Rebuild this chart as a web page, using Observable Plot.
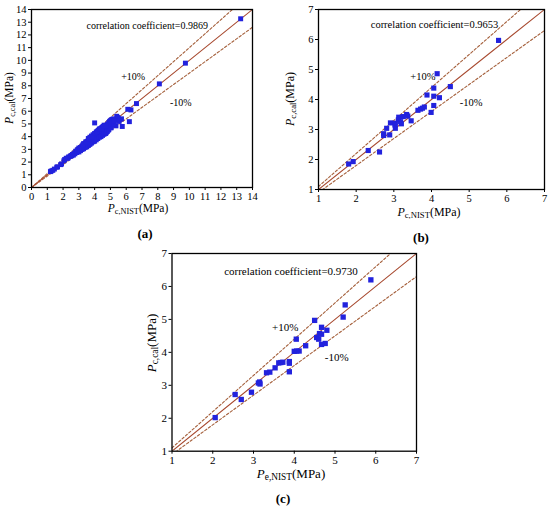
<!DOCTYPE html>
<html>
<head>
<meta charset="utf-8">
<script src="https://cdn.jsdelivr.net/npm/d3@7"></script>
<script src="https://cdn.jsdelivr.net/npm/@observablehq/plot@0.6"></script>
<style>
  body { margin: 0; background: #fff; }
  #wrap { position: relative; width: 550px; height: 509px; overflow: hidden; background: #fff; font-family: "Liberation Serif", "Times New Roman", Times, "DejaVu Serif", serif; color: #000; }
  .svgbox { position: absolute; }
  .svgbox svg { overflow: visible; }
  .svgbox svg text { font-family: "Liberation Serif", "Times New Roman", Times, "DejaVu Serif", serif; }
  .lab { position: absolute; white-space: nowrap; line-height: 1; transform: translate(-50%, -50%); }
  .lab sub { font-size: 72%; vertical-align: -0.25em; line-height: 0; }
  .rot { transform: translate(-50%, -50%) rotate(-90deg); }
  .cap { position: absolute; font-weight: bold; font-size: 13px; transform: translate(-50%, -50%); line-height: 1; }
</style>
</head>
<body>
<div id="wrap"></div>
<script>
// ---------- Panel (a) data ----------
const aX = [1.2,1.25,1.35,1.45,1.6,1.65,1.85,1.9,2.05,2.1,2.2,2.3,2.35,2.45,2.5,2.55,2.6,2.65,2.7,2.75,2.8,2.85,2.9,2.9,2.95,3.0,3.0,3.05,3.1,3.1,3.15,3.2,3.2,3.25,3.3,3.3,3.35,3.35,3.4,3.4,3.45,3.5,3.5,3.55,3.55,3.6,3.6,3.65,3.65,3.7,3.7,3.75,3.75,3.8,3.8,3.85,3.85,3.9,3.9,3.95,3.95,4.0,4.0,4.0,4.05,4.05,4.1,4.1,4.15,4.15,4.2,4.2,4.25,4.25,4.3,4.3,4.35,4.35,4.4,4.4,4.45,4.45,4.5,4.5,4.55,4.55,4.6,4.6,4.65,4.65,4.7,4.7,4.75,4.8,4.8,4.85,4.9,4.9,4.95,5.0,5.0,5.05,5.1,5.15,5.2,5.25,5.3,5.4,5.45,5.5,5.35,5.6,5.7,5.75,5.55,6.1,6.3,6.2,6.65,8.1,9.75,13.25,3.6,3.7,3.8,3.9,4.0,4.1,4.2,4.3,4.4,4.5,4.6,3.55,3.75,3.95,4.15,4.35,4.55,4.75,3.3,3.45,4.85,5.05,2.95,3.15,
  3.0,3.1,3.2,3.3,3.4,3.5,3.6,3.7,3.8,3.9,4.0,4.1,4.2,4.3,4.4,4.5,4.6,4.7,4.8,4.9,5.0,5.1,5.2,3.25,3.45,3.65,3.85,4.05,4.25,4.45,4.65,4.85,5.05,5.25,4.15,4.35,4.55,4.75];
const aY = [1.25,1.3,1.35,1.45,1.6,1.62,1.8,1.85,2.1,2.2,2.3,2.3,2.4,2.45,2.5,2.5,2.6,2.55,2.7,2.65,2.85,2.75,2.95,2.8,3.0,2.9,3.1,3.0,3.15,2.95,3.1,3.25,3.05,3.2,3.3,3.15,3.4,3.25,3.3,3.45,3.35,3.5,3.3,3.45,3.6,3.5,3.7,3.55,3.4,3.75,3.6,3.8,3.55,3.9,3.7,3.85,3.6,3.95,3.75,4.0,3.8,4.05,3.85,5.08,4.1,3.9,4.15,3.95,4.2,4.0,4.3,4.05,4.5,4.1,4.6,4.2,4.35,4.15,4.45,4.25,4.7,4.3,4.5,4.35,4.6,4.2,4.75,4.4,4.5,4.3,4.85,4.6,4.5,4.95,4.7,5.0,5.1,4.8,5.2,5.25,5.0,5.3,5.35,5.3,5.4,5.35,5.3,5.6,5.5,5.45,4.85,5.35,5.4,4.8,5.2,6.15,6.1,5.18,6.6,8.15,9.78,13.27,3.85,3.95,4.05,4.15,4.25,4.35,4.45,4.55,4.65,4.75,4.9,3.35,3.5,3.65,3.85,4.05,4.25,4.35,3.45,3.6,4.5,4.7,2.85,3.0,
  2.8,2.9,3.0,3.05,3.15,3.2,3.3,3.4,3.5,3.6,3.65,3.75,3.85,3.95,4.0,4.1,4.2,4.25,4.4,4.55,4.7,4.9,5.0,3.35,3.55,3.8,4.0,4.25,4.45,4.6,4.8,4.95,5.15,5.2,4.4,4.6,4.8,4.85];

// ---------- Panel (b) data ----------
const bX = [1.8,1.92,2.32,2.62,2.73,2.73,2.81,2.89,2.91,3.03,3.04,3.04,3.12,3.13,3.18,3.2,3.25,3.34,3.37,3.46,3.64,3.71,3.76,3.81,3.88,3.99,4.06,4.06,4.06,4.15,4.21,4.5,5.78];
const bY = [1.85,1.93,2.3,2.25,2.86,2.8,3.04,2.82,3.22,3.15,3.04,3.21,3.32,3.41,3.26,3.19,3.43,3.5,3.45,3.29,3.64,3.68,3.71,3.75,4.15,3.57,3.8,4.11,4.38,4.86,4.06,4.43,5.97];

// ---------- Panel (c) data ----------
const cX = [2.06,2.55,2.7,2.95,3.12,3.15,3.16,3.32,3.4,3.53,3.62,3.67,3.72,3.88,3.88,3.88,4.0,4.05,4.06,4.12,4.28,4.5,4.55,4.6,4.62,4.67,4.67,4.67,4.76,4.8,5.2,5.25,5.88];
const cY = [2.02,2.72,2.57,2.79,3.07,3.1,3.04,3.38,3.4,3.53,3.68,3.69,3.7,3.72,3.67,3.41,4.03,4.4,4.04,4.04,4.2,4.97,4.45,4.4,4.57,4.55,4.76,4.24,4.27,4.67,5.07,5.44,6.2];

const coefA = "correlation coefficient=0.9869";
const coefB = "correlation coefficient=0.9653";
const coefC = "correlation coefficient=0.9730";
const plusLabel = "+10%";
const minusLabel = "-10%";
const ticksA = d3.range(0, 15);
const ticksBC = d3.range(1, 8);

const serif = '"Liberation Serif", "Times New Roman", Times, "DejaVu Serif", serif';
const ptFill = "#2222dd";
const solidColor = "#a84a30";
const dashColor = "#a5603c";

function panel(xs, ys, lo, hi, ticks, opts) {
  const pts = xs.map((x, i) => ({x, y: ys[i]}));
  const ends = [lo, hi];
  return Plot.plot({
    width: opts.width,
    height: opts.height,
    marginLeft: opts.ml, marginRight: opts.mr, marginTop: opts.mt, marginBottom: opts.mb,
    style: { fontFamily: serif, fontSize: opts.fs + "px", background: "transparent", color: "#000", overflow: "visible" },
    x: { domain: [lo, hi], ticks: ticks, tickFormat: d3.format("d"), label: null },
    y: { domain: [lo, hi], ticks: ticks, tickFormat: d3.format("d"), label: null },
    marks: [
      Plot.line(ends, { x: d => d, y: d => d * 1.1, stroke: dashColor, strokeWidth: 1.1, strokeDasharray: "2.5,2", clip: true }),
      Plot.line(ends, { x: d => d, y: d => d * 0.9, stroke: dashColor, strokeWidth: 1.1, strokeDasharray: "2.5,2", clip: true }),
      Plot.line(ends, { x: d => d, y: d => d, stroke: solidColor, strokeWidth: 1.1, clip: true }),
      Plot.dot(pts, { x: "x", y: "y", symbol: "square", r: opts.r, fill: ptFill, stroke: "none" }),
      Plot.text([opts.coef], { x: opts.cx, y: opts.cy, text: d => d, fontSize: opts.tfs, fill: "#000" }),
      Plot.text([plusLabel], { x: opts.px, y: opts.py, text: d => d, fontSize: opts.tfs, fill: "#000" }),
      Plot.text([minusLabel], { x: opts.mx, y: opts.my, text: d => d, fontSize: opts.tfs, fill: "#000" }),
      Plot.axisX({ ticks: ticks, tickFormat: d3.format("d"), tickSize: 3, tickPadding: 2, label: null }),
      Plot.axisY({ ticks: ticks, tickFormat: d3.format("d"), tickSize: 3, tickPadding: 2, label: null }),
      Plot.frame({ stroke: "#000", strokeWidth: 1.3 })
    ]
  });
}

const wrap = document.getElementById("wrap");
function place(svg, left, top) {
  const d = document.createElement("div");
  d.className = "svgbox";
  d.style.left = left + "px";
  d.style.top = top + "px";
  d.appendChild(svg);
  wrap.appendChild(d);
}
function label(html, x, y, fs, cls) {
  const d = document.createElement("div");
  d.className = cls || "lab";
  d.style.left = x + "px";
  d.style.top = y + "px";
  if (fs) d.style.fontSize = fs + "px";
  d.innerHTML = html;
  wrap.appendChild(d);
}

// Panel (a)
place(panel(aX, aY, 0, 14, ticksA, {
  width: 275, height: 212, ml: 31, mr: 23, mt: 9, mb: 25, fs: 10.5, tfs: 10, r: 2.8,
  coef: coefA, cx: 7.33, cy: 12.75, px: 6.44, py: 8.73, mx: 9.46, my: 6.69
}), 0, 0);
// Panel (b)
place(panel(bX, bY, 1, 7, ticksBC, {
  width: 263, height: 214, ml: 31, mr: 6, mt: 9, mb: 25, fs: 10.5, tfs: 10.5, r: 2.9,
  coef: coefB, cx: 4.08, cy: 6.5, px: 3.77, py: 4.77, mx: 5.05, my: 3.9
}), 287, 0);
// Panel (c)
place(panel(cX, cY, 1, 7, ticksBC, {
  width: 285, height: 232, ml: 31.5, mr: 9, mt: 9, mb: 25.3, fs: 11, tfs: 11, r: 3,
  coef: coefC, cx: 3.92, cy: 6.46, px: 3.78, py: 4.75, mx: 5.04, my: 3.84
}), 140, 244);

// Axis titles and captions
label("<i>P</i><sub>c,NIST</sub>(MPa)", 138, 209, 11.5);
label("<i>P</i><sub>c,cal</sub>(MPa)", 10, 98, 11.5, "lab rot");
label("(a)", 145, 233, null, "cap");

label("<i>P</i><sub>c,NIST</sub>(MPa)", 429, 212, 12);
label("<i>P</i><sub>c,cal</sub>(MPa)", 290, 99, 12, "lab rot");
label("(b)", 421, 237, null, "cap");

label("<i>P</i><sub>e,NIST</sub>(MPa)", 291, 473, 13);
label("<i>P</i><sub>c,cal</sub>(MPa)", 151, 343, 13, "lab rot");
label("(c)", 283, 498, null, "cap");
</script>
</body>
</html>
